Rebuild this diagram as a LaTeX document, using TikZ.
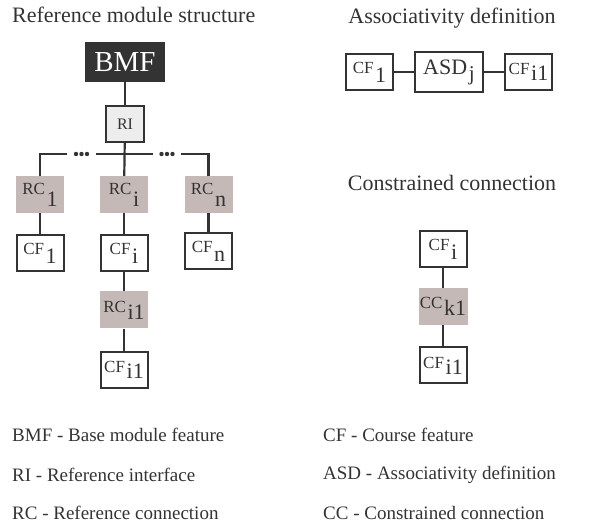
\documentclass[tikz,border=0pt]{standalone}
\usepackage{fontspec}
\setmainfont{Liberation Serif}
\usetikzlibrary{positioning}

\definecolor{ink}{HTML}{333333}
\definecolor{rcgray}{HTML}{C4B9B6}
\definecolor{rigray}{HTML}{EDEDED}

% name with a big, lowered index
\newcommand{\idx}[3][9pt]{{\fontsize{17}{17}\selectfont #2}\,\raisebox{-#1}{\fontsize{22}{22}\selectfont #3}}

\tikzset{
  cfbox/.style={draw=ink,line width=2pt,fill=white,minimum width=47pt,minimum height=36pt,inner sep=0pt,text=ink},
  rcbox/.style={fill=rcgray,minimum width=48pt,minimum height=37pt,inner sep=0pt,text=ink},
  link/.style={draw=ink,line width=2.2pt},
  title/.style={font=\fontsize{22}{22}\selectfont,text=ink,inner sep=0pt},
  legend/.style={font=\fontsize{19}{19}\selectfont,text=ink,inner sep=0pt,anchor=west}
}

\begin{document}
\begin{tikzpicture}[x=1pt,y=1pt]
\useasboundingbox (0,0) rectangle (595,526);

% reference module structure
\node[title,anchor=west] (tRef) at (12,511) {Reference module structure};
\node[fill=ink,text=white,minimum width=80pt,minimum height=40pt,inner sep=0pt,font=\fontsize{29}{29}\selectfont] (BMF) at (125,464) {BMF};
\node[draw=ink,line width=2pt,fill=rigray,text=ink,minimum width=38pt,minimum height=36pt,inner sep=0pt,font=\fontsize{16}{16}\selectfont] (RI) at (125,402) {RI};
\node[minimum width=29pt,inner sep=0pt] (dotsL) at (81.5,372) {};
\node[minimum width=28pt,inner sep=0pt] (dotsR) at (167,372) {};
\foreach \d in {-5.5,0,5.5} {
  \fill[ink] ([xshift=\d pt]dotsL.center) circle (2.2pt);
  \fill[ink] ([xshift=\d pt]dotsR.center) circle (2.2pt);
}
\node[rcbox] (RC1) at (40,331.5) {\idx[12pt]{RC}{1}};
\node[rcbox] (RCi) at (124,331.5) {\idx[12pt]{RC}{i}};
\node[rcbox] (RCn) at (208.5,331.5) {\idx[12pt]{RC}{n}};
\node[cfbox] (CF1) at (40,273) {\idx{CF}{1}};
\node[cfbox] (CFi) at (124,273) {\idx{CF}{i}};
\node[cfbox] (CFn) at (208.5,275) {\idx{CF}{n}};
\node[rcbox] (RCi1) at (124,216) {\idx[7pt]{RC}{i1}};
\node[cfbox] (CFi1) at (124,156) {\idx[6pt]{CF}{i1}};

\draw[link] (BMF) -- (RI);
\draw[link] (RI) -- (RCi);
\draw[link] (RC1.north) |- (dotsL.west);
\draw[link] (dotsL.east) -- (dotsR.west);
\draw[link] (RCn.north) |- (dotsR.east);
\draw[link] (RC1) -- (CF1);
\draw[link] (RCi) -- (CFi);
\draw[link] (RCn) -- (CFn);
\draw[link] (CFi) -- (RCi1);
\draw[link] (RCi1) -- (CFi1);

% associativity definition
\node[title] (tAsd) at (452,508) {Associativity definition};
\node[cfbox] (aCF1) at (369.5,454) {\idx{CF}{1}};
\node[cfbox,minimum width=68pt,minimum height=40pt] (ASD) at (449,454) {{\fontsize{22}{22}\selectfont ASD}\,\raisebox{-6pt}{\fontsize{21}{21}\selectfont j}};
\node[cfbox] (aCFi1) at (528.5,454) {\idx[6pt]{CF}{i1}};
\draw[link] (aCF1) -- (ASD);
\draw[link] (ASD) -- (aCFi1);

% constrained connection
\node[title] (tCon) at (452,343) {Constrained connection};
\node[cfbox] (cCFi) at (443,276.5) {\idx{CF}{i}};
\node[rcbox,minimum width=49pt] (CCk1) at (443,219.5) {\idx[7pt]{CC}{k1}};
\node[cfbox] (cCFi1) at (443,160.5) {\idx[6pt]{CF}{i1}};
\draw[link] (cCFi) -- (CCk1);
\draw[link] (CCk1) -- (cCFi1);

% legend
\node[legend] (lBMF) at (12,91) {BMF - Base module feature};
\node[legend] (lRI) at (12,51) {RI - Reference interface};
\node[legend] (lRC) at (12,13) {RC - Reference connection};
\node[legend] (lCF) at (323,91) {CF - Course feature};
\node[legend] (lASD) at (323,51) {ASD - Associativity definition};
\node[legend] (lCC) at (323,13) {CC - Constrained connection};
\end{tikzpicture}
\end{document}
